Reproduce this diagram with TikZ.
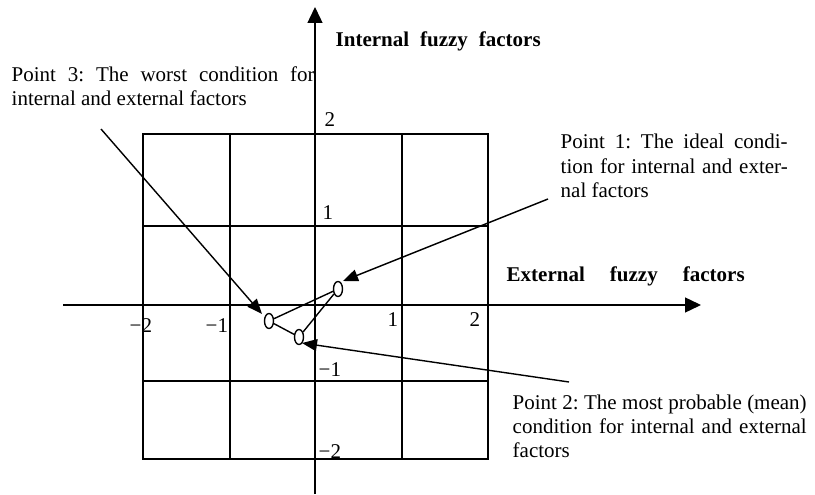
\documentclass[tikz,border=0pt]{standalone}
\usepackage{fontspec}
\setmainfont{Liberation Serif}
\usetikzlibrary{arrows.meta,shapes.geometric}
\frenchspacing
\begin{document}
\begin{tikzpicture}[x=1pt,y=-1pt,line width=1.4pt,
  lbl/.style={inner sep=0pt,anchor=base west,font=\fontsize{21}{24}\selectfont},
  blbl/.style={lbl,font=\fontsize{21}{24}\selectfont\bfseries},
  pt/.style={draw,ellipse,minimum width=9pt,minimum height=15pt,inner sep=0pt,line width=1.4pt},
  axisline/.style={-{Triangle[length=16pt,width=15pt]}},
  callout/.style={-{Triangle[length=15pt,width=12pt]}}]
\useasboundingbox (0,0) rectangle (815,495);
% grid
\draw (143,134) rectangle (488,459);
\draw (230,134) -- (230,459);
\draw (402,134) -- (402,459);
\draw (143,226) -- (488,226);
\draw (143,381) -- (488,381);
% axes
\draw[axisline] (315,494) -- (315,7);
\draw[axisline] (63,305) -- (701,305);
% axis labels
\node[blbl] (ilab) at (335,47) {\makebox[205pt][s]{Internal fuzzy factors}};
\node[blbl] (elab) at (506,281) {\makebox[238pt][s]{External fuzzy factors}};
% tick labels
\node[lbl] (y2) at (324,127) {2};
\node[lbl] (y1) at (322,219) {1};
\node[lbl] (ym1) at (318,376) {−1};
\node[lbl] (ym2) at (318,458) {−2};
\node[lbl] (xm2) at (129,332) {−2};
\node[lbl] (xm1) at (205,332) {−1};
\node[lbl] (x1) at (387,326) {1};
\node[lbl] (x2) at (469,326) {2};
% points
\node[pt] (p1) at (338,289) {};
\node[pt] (p3) at (269,321) {};
\node[pt] (p2) at (299,337) {};
\draw (p3) -- (p1);
\draw (p3) -- (p2);
\draw (p1) -- (p2);
% callout texts
\node[lbl] (t3a) at (11,82) {\makebox[303pt][s]{Point 3: The worst condition for}};
\node[lbl] (t3b) at (11,106) {internal and external factors};
\node[lbl] (t1a) at (560,149) {\makebox[227pt][s]{Point 1: The ideal condi-}};
\node[lbl] (t1b) at (560,173) {\makebox[227pt][s]{tion for internal and exter-}};
\node[lbl] (t1c) at (560,197) {nal factors};
\node[lbl] (t2a) at (512,409) {\makebox[294pt][s]{Point 2: The most probable (mean)}};
\node[lbl] (t2b) at (512,433) {\makebox[294pt][s]{condition for internal and external}};
\node[lbl] (t2c) at (512,457) {factors};
% callout arrows
\coordinate (a1s) at (548,199);
\coordinate (a1e) at (343,281);
\coordinate (a3s) at (101,129);
\coordinate (a3e) at (262,314);
\coordinate (a2s) at (569,382);
\coordinate (a2e) at (302,343);
\draw[callout] (a1s) -- (a1e);
\draw[callout] (a3s) -- (a3e);
\draw[callout] (a2s) -- (a2e);
\end{tikzpicture}
\end{document}
